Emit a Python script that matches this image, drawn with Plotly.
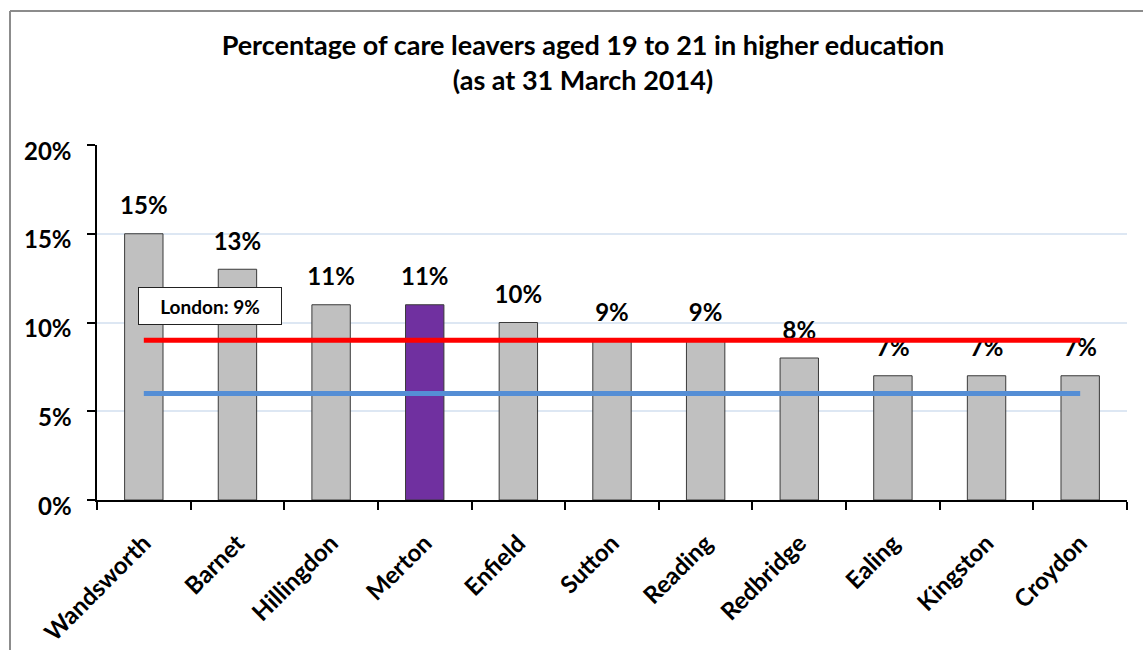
import plotly.graph_objects as go

categories = ["Wandsworth", "Barnet", "Hillingdon", "Merton", "Enfield", "Sutton",
              "Reading", "Redbridge", "Ealing", "Kingston", "Croydon"]
values = [15, 13, 11, 11, 10, 9, 9, 8, 7, 7, 7]
labels = ["15%", "13%", "11%", "11%", "10%", "9%", "9%", "8%", "7%", "7%", "7%"]
highlight = "Merton"
london_avg = 9
other_avg = 6
y_ticks = [0, 5, 10, 15, 20]
y_ticklabels = ["0%", "5%", "10%", "15%", "20%"]

FONT = "Lato"
W, H = 1143, 650
L, R, T, B = 97, W - 1127, 145, H - 500
pw, ph = W - L - R, H - T - B

bar_colors = ["#7030A0" if c == highlight else "#C0C0C0" for c in categories]

fig = go.Figure()
fig.add_trace(go.Bar(
    x=categories, y=values,
    marker=dict(color=bar_colors, line=dict(color="#3A3A3A", width=1)),
    hoverinfo="skip", showlegend=False,
))
fig.add_trace(go.Scatter(
    x=categories, y=values, mode="markers+text", text=labels,
    textposition="top center",
    textfont=dict(family=FONT, size=24, color="black", weight="bold"),
    marker=dict(size=20, opacity=0),
    hoverinfo="skip", showlegend=False,
))
fig.add_trace(go.Scatter(
    x=categories, y=[london_avg] * len(categories), mode="lines",
    line=dict(color="#FF0000", width=5), hoverinfo="skip", showlegend=False,
))
fig.add_trace(go.Scatter(
    x=categories, y=[other_avg] * len(categories), mode="lines",
    line=dict(color="#558ED5", width=5), hoverinfo="skip", showlegend=False,
))

def px(x):
    return (x - L) / pw

def py(y):
    return (H - B - y) / ph

shapes = [
    dict(type="line", xref="paper", yref="paper", x0=px(10), x1=px(1170), y0=py(11), y1=py(11),
         line=dict(color="#8C8C8C", width=2)),
    dict(type="line", xref="paper", yref="paper", x0=px(10), x1=px(10), y0=py(11), y1=py(680),
         line=dict(color="#8C8C8C", width=2)),
]

annotations = [
    dict(text="London: 9%", xref="paper", yref="paper", x=px(210), y=py(306),
         showarrow=False, font=dict(family=FONT, size=19, color="black", weight="bold"),
         bgcolor="white", bordercolor="#222222", borderwidth=1, width=140, height=34,
         borderpad=1, xanchor="center", yanchor="middle"),
]
# y tick labels (drawn slightly below their tick marks, as in the original)
for v, t in zip(y_ticks, y_ticklabels):
    annotations.append(dict(
        text=t, xref="paper", yref="y", x=0, y=v, xanchor="right", yanchor="middle",
        xshift=-23, yshift=-5, showarrow=False,
        font=dict(family=FONT, size=24, color="black", weight="bold"),
    ))

fig.update_layout(
    width=W, height=H,
    margin=dict(l=L, r=R, t=T, b=B),
    paper_bgcolor="white", plot_bgcolor="white",
    bargap=0.59,
    title=dict(text="Percentage of care leavers aged 19 to 21 in higher education<br>(as at 31 March 2014)",
               x=583 / W, xref="container", xanchor="center",
               y=1 - 55 / H, yref="container", yanchor="middle",
               font=dict(family=FONT, size=27, color="black", weight="bold")),
    shapes=shapes, annotations=annotations,
    xaxis=dict(
        range=[-0.5, len(categories) - 0.5],
        tickangle=-45, ticks="outside", tickson="boundaries", ticklen=8, tickcolor="black",
        tickwidth=1.5, showline=True, linecolor="black", linewidth=1.5, showgrid=False,
        ticklabelstandoff=18, automargin=False,
        tickfont=dict(family=FONT, size=24, color="black", weight="bold"),
        fixedrange=True,
    ),
    yaxis=dict(
        range=[0, 20], tickvals=y_ticks, showticklabels=False, automargin=False,
        ticks="outside", ticklen=8, tickcolor="black", tickwidth=1.5,
        showline=True, linecolor="black", linewidth=1.5,
        showgrid=True, gridcolor="#DDE7F3", gridwidth=1.5, zeroline=False,
        fixedrange=True,
    ),
)

fig.write_html(
    "out.html",
    config={"displayModeBar": False},
    post_script="document.body.style.margin='0';document.body.style.overflow='hidden';",
)
